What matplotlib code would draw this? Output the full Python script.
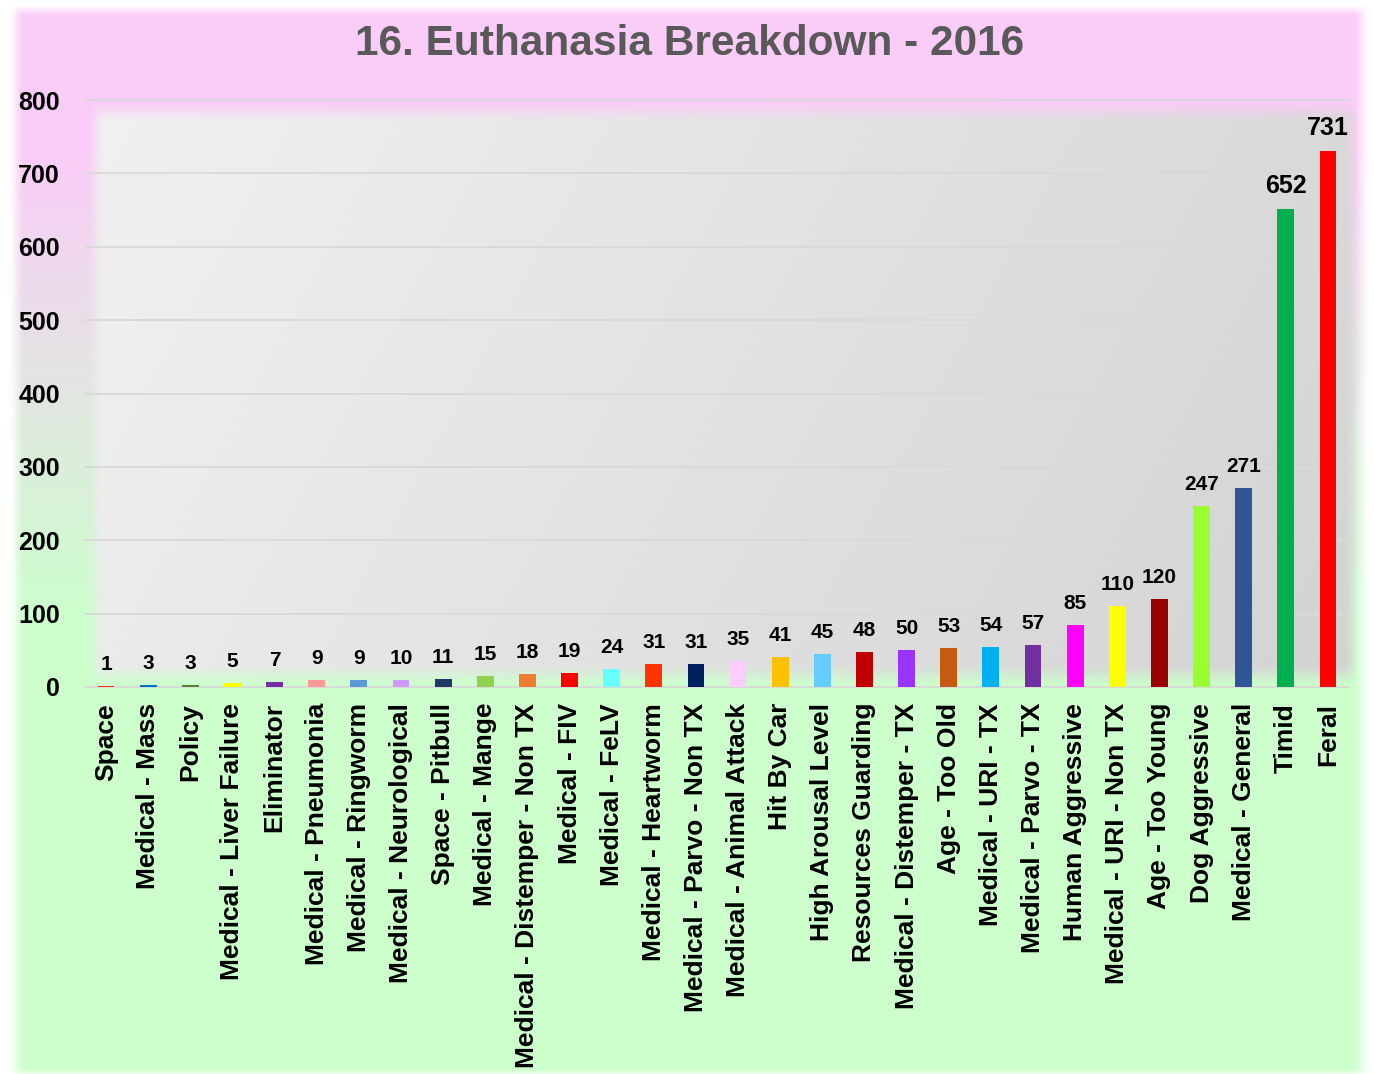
import numpy as np
import matplotlib
matplotlib.use("Agg")
import matplotlib.pyplot as plt

plt.rcParams['font.family'] = ['Liberation Sans', 'DejaVu Sans']

categories = ["Space", "Medical - Mass", "Policy", "Medical - Liver Failure", "Eliminator",
              "Medical - Pneumonia", "Medical - Ringworm", "Medical - Neurological",
              "Space - Pitbull", "Medical - Mange", "Medical - Distemper - Non TX",
              "Medical - FIV", "Medical - FeLV", "Medical - Heartworm",
              "Medical - Parvo - Non TX", "Medical - Animal Attack", "Hit By Car",
              "High Arousal Level", "Resources Guarding", "Medical - Distemper - TX",
              "Age - Too Old", "Medical - URI - TX", "Medical - Parvo - TX",
              "Human Aggressive", "Medical - URI - Non TX", "Age - Too Young",
              "Dog Aggressive", "Medical - General", "Timid", "Feral"]
values = [1, 3, 3, 5, 7, 9, 9, 10, 11, 15, 18, 19, 24, 31, 31, 35, 41, 45, 48, 50,
          53, 54, 57, 85, 110, 120, 247, 271, 652, 731]
colors = ["#FF3300", "#0070C0", "#548235", "#FFFF00", "#7030A0", "#FF9999", "#5B9BD5",
          "#CC99FF", "#1F3864", "#92D050", "#ED7D31", "#FF0000", "#66FFFF", "#FF3300",
          "#002060", "#FFCCFF", "#FFC000", "#66CCFF", "#C00000", "#9933FF", "#C55A11",
          "#00B0F0", "#7030A0", "#FF00FF", "#FFFF00", "#990000", "#99FF33", "#2F5597",
          "#00B050", "#FF0000"]
yticks = [0, 100, 200, 300, 400, 500, 600, 700, 800]
title = "16. Euthanasia Breakdown - 2016"

W, H = 1374, 1074
fig = plt.figure(figsize=(W / 100, H / 100), dpi=100, facecolor="white")

# ---- decorative background (gradient fill + soft-edged plot area) ----
yy, xx = np.mgrid[0:H, 0:W].astype(float)

def ramp(v, a, b):
    t = np.clip((v - a) / (b - a), 0, 1)
    return t * t * (3 - 2 * t)

pink = np.array([250, 204, 248]) / 255
green = np.array([204, 255, 204]) / 255
t = np.clip((yy - 150) / (620 - 150), 0, 1)[..., None]
bg = pink * (1 - t) + green * t
a_bg = (ramp(xx, 8, 24) * (1 - ramp(xx, 1352, 1370)) *
        ramp(yy, 3, 16) * (1 - ramp(yy, 1068, 1076)))[..., None]
img = np.ones((H, W, 3)) * (1 - a_bg) + bg * a_bg

fx = np.clip((xx - 92) / 1260, 0, 1)
fy = np.clip((yy - 104) / 584, 0, 1)
g = (241 - 24 * fx - 6 * fy) / 255
gray = np.stack([g, g, g], axis=-1)
a_p = (ramp(xx, 86, 104) * (1 - ramp(xx, 1344, 1360)) *
       ramp(yy, 100, 122) * (1 - ramp(yy, 662, 688)))[..., None]
img = img * (1 - a_p) + gray * a_p

bg_ax = fig.add_axes([0, 0, 1, 1], zorder=0)
bg_ax.imshow(img, aspect="auto", extent=(0, W, H, 0), interpolation="bilinear")
bg_ax.set_axis_off()

# ---- main chart ----
left, right, top, base = 85, 1349, 100, 687
ax = fig.add_axes([left / W, (H - base) / H, (right - left) / W, (base - top) / H], zorder=1)
ax.patch.set_alpha(0)

x = np.arange(len(categories))
ax.bar(x, values, width=0.4, color=colors, zorder=3)
ax.set_xlim(-0.5, len(categories) - 0.5)
ax.set_ylim(0, 800)

for yv in yticks:
    ax.axhline(yv, color="#d9d9d9", lw=1.3, zorder=1, clip_on=False)

for s in ax.spines.values():
    s.set_visible(False)

ax.set_yticks(yticks)
ax.set_yticklabels([str(v) for v in yticks], fontsize=18, fontweight="bold")
ax.set_xticks(x)
ax.set_xticklabels(categories, rotation=90, fontsize=19, fontweight="bold", va="top", ha="center")
ax.tick_params(axis="y", length=0, pad=18)
ax.tick_params(axis="x", length=0, pad=11.5)

for i, v in enumerate(values):
    fs = 18 if v > 600 else 15
    ax.annotate(str(v), (i, v), xytext=(0, 11.5), textcoords="offset points",
                ha="center", va="baseline", fontsize=fs, fontweight="bold", color="black",
                zorder=4)

fig.text(690 / W, 1 - 44 / H, title, ha="center", va="center", fontsize=30.5,
         fontweight="bold", color="#595959")

fig.savefig("out.png", dpi=100, facecolor="white")
